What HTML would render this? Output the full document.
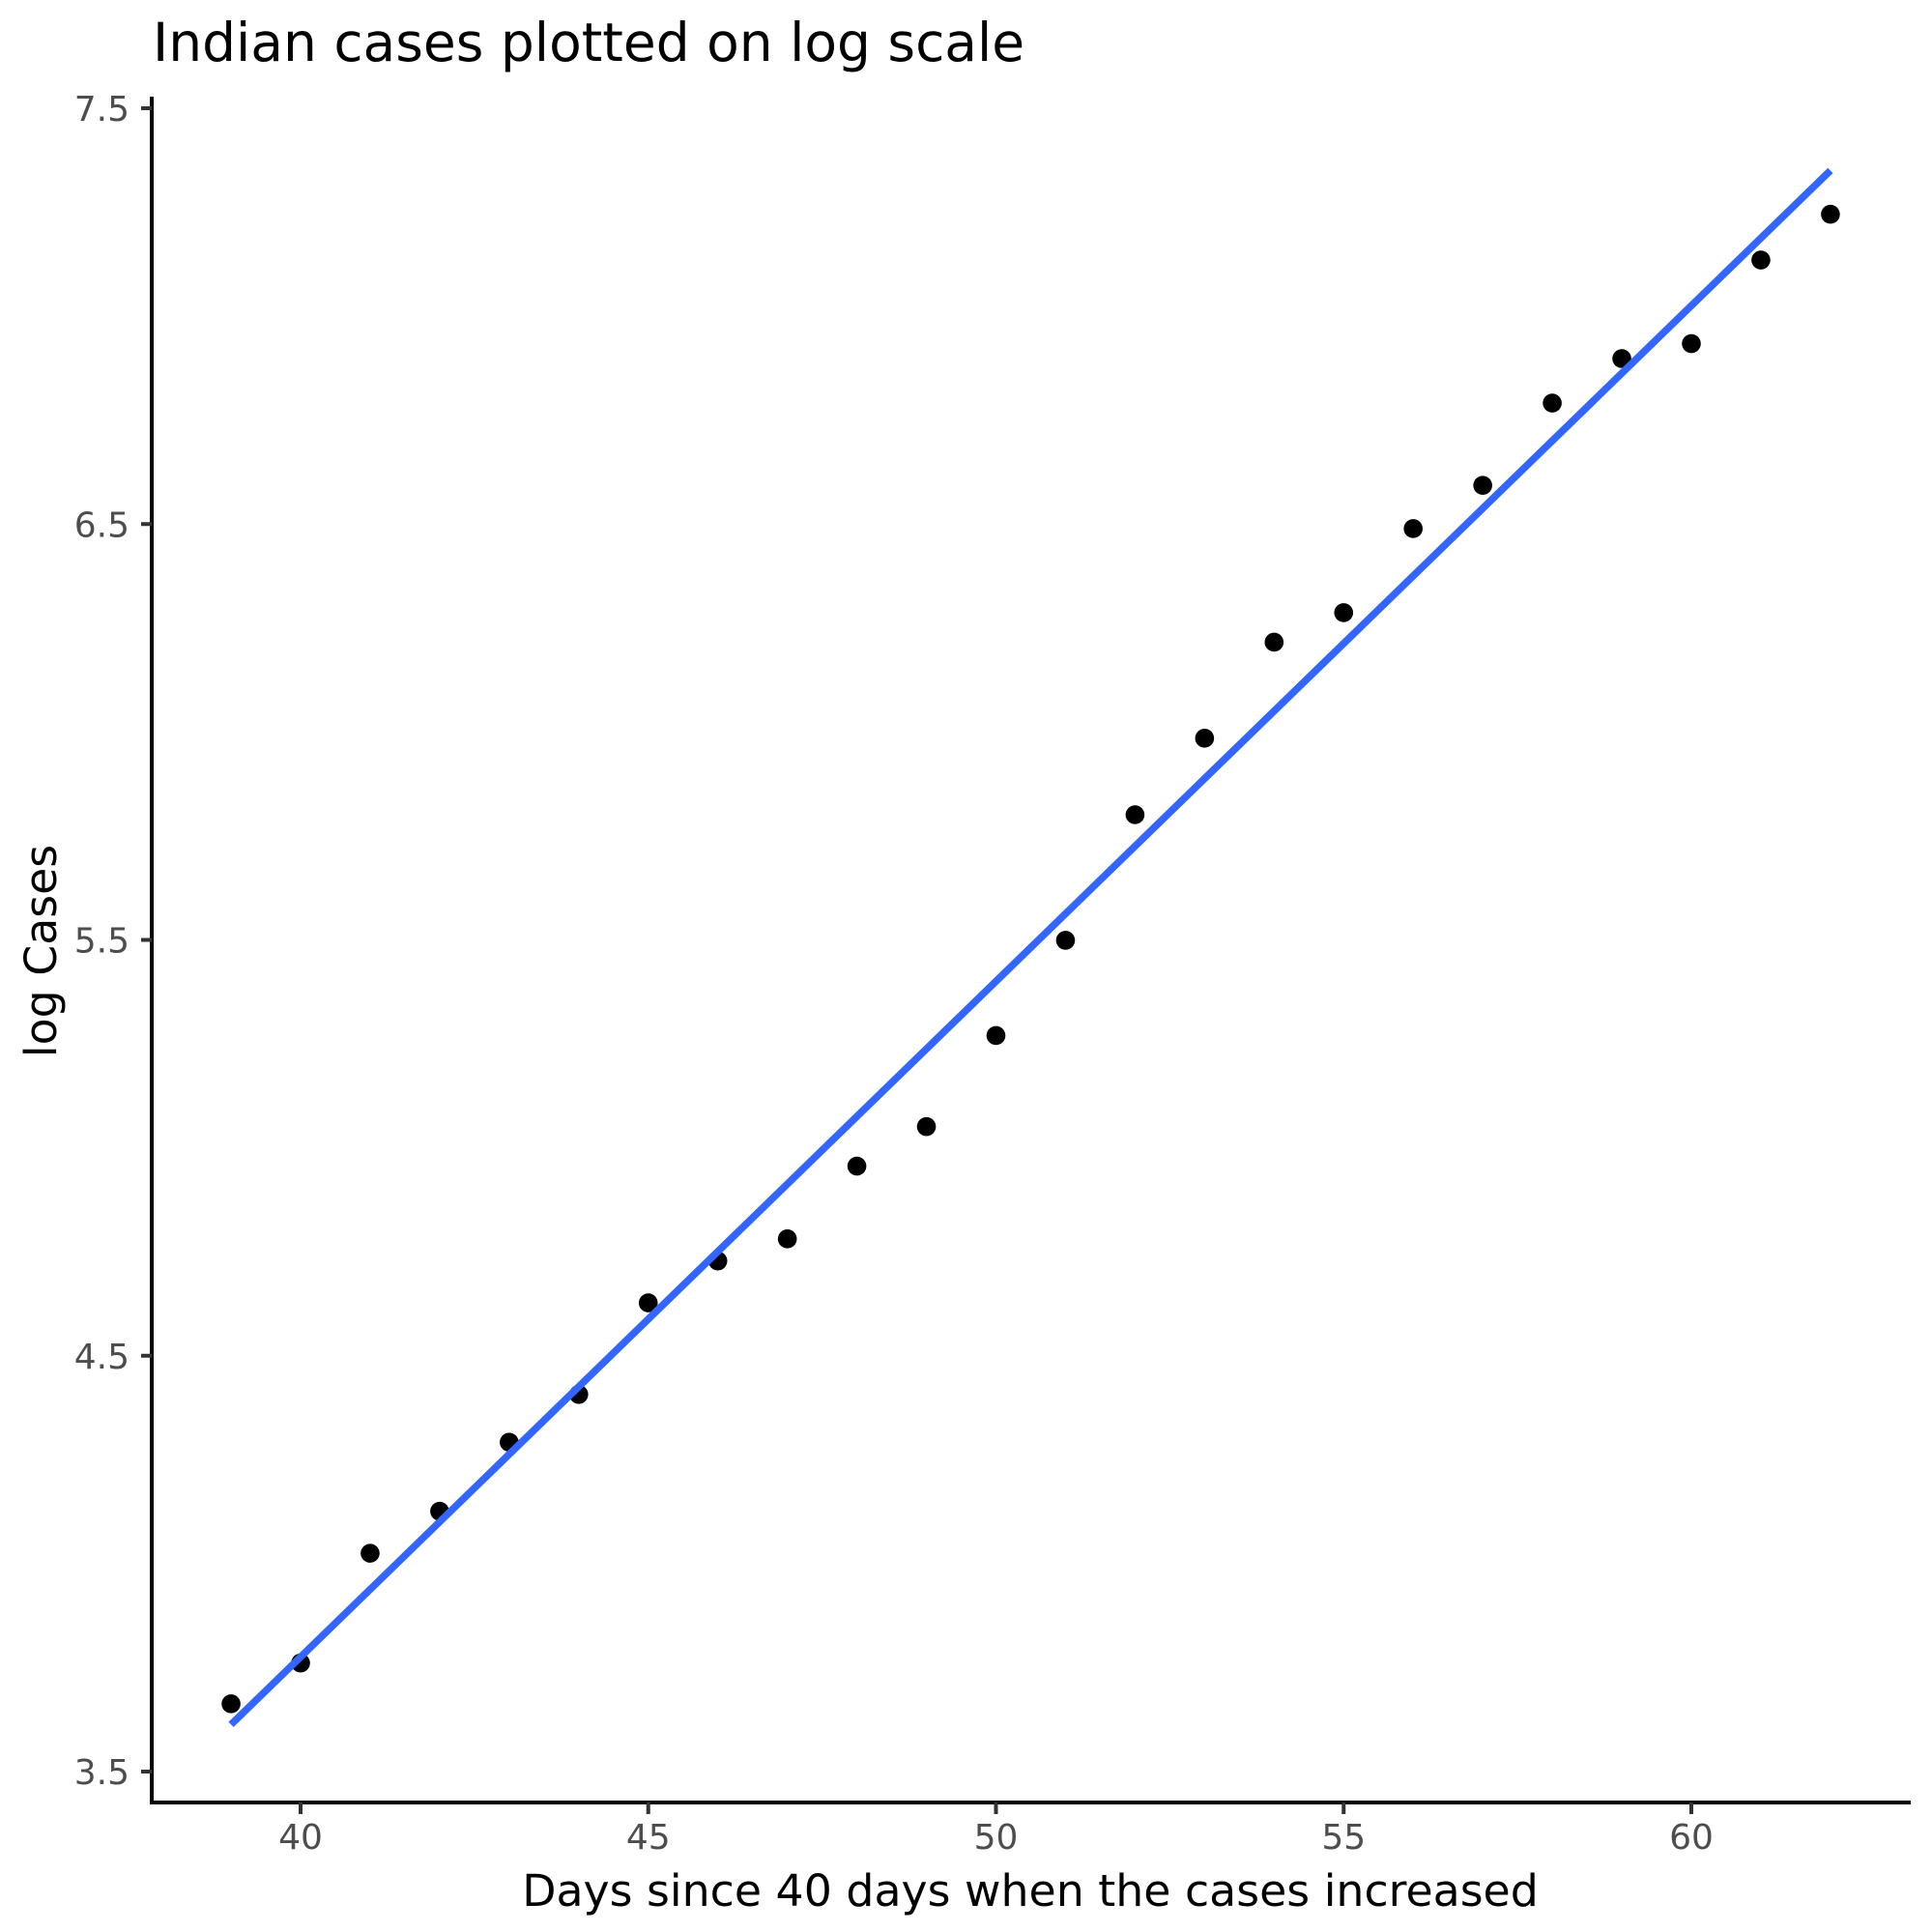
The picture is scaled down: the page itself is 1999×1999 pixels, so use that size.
<!DOCTYPE html>
<html><head><meta charset="utf-8">
<style>
html,body{margin:0;padding:0;background:#fff;}
svg{display:block;font-family:"DejaVu Sans","Liberation Sans",sans-serif;}
</style></head>
<body>
<svg id="chart" width="1999" height="1999" viewBox="0 0 1999 1999" xmlns="http://www.w3.org/2000/svg">
<text x="158" y="63" font-size="55" fill="#000">Indian cases plotted on log scale</text>
<g id="plot"></g>
<text x="1066" y="1972" font-size="45.8" text-anchor="middle" fill="#000">Days since 40 days when the cases increased</text>
<text transform="translate(58,984) rotate(-90)" font-size="45.8" text-anchor="middle" fill="#000">log Cases</text>
</svg>
<script>
const days = [39,40,41,42,43,44,45,46,47,48,49,50,51,52,53,54,55,56,57,58,59,60,61,62];
const logCases = [3.663,3.761,4.025,4.126,4.292,4.407,4.627,4.728,4.781,4.956,5.051,5.270,5.499,5.801,5.985,6.216,6.287,6.489,6.593,6.791,6.898,6.934,7.135,7.245];
const xTicks = [40,45,50,55,60];
const yTicks = [3.5,4.5,5.5,6.5,7.5];
const yTickLabels = ["3.5","4.5","5.5","6.5","7.5"];

const NS = "http://www.w3.org/2000/svg";
const g = document.getElementById('plot');
function xs(v){ return 311 + (v-40)*(1750-311)/20; }
function ys(v){ return 112 + (7.5-v)*(1833-112)/4; }
function mk(tag, attrs){ const e=document.createElementNS(NS,tag); for(const k in attrs) e.setAttribute(k,attrs[k]); g.appendChild(e); return e; }

let ax = mk('line',{x1:157,y1:100,x2:157,y2:1867,stroke:'#000','stroke-width':4});


ax = mk('line',{x1:155,y1:1865,x2:1977,y2:1865,stroke:'#000','stroke-width':4});



yTicks.forEach((t,i)=>{
  const y=ys(t);
  const tk=mk('line',{x1:146,y1:y,x2:157,y2:y,stroke:'#333','stroke-width':4});
  
  
  const lb=mk('text',{x:134,y:y+13,'font-size':36,'text-anchor':'end',fill:'#4d4d4d'});
  lb.textContent=yTickLabels[i];
  
  
});
xTicks.forEach(t=>{
  const x=xs(t);
  const tk=mk('line',{x1:x,y1:1865,x2:x,y2:1877,stroke:'#333','stroke-width':4});
  
  
  const lb=mk('text',{x:x,y:1913,'font-size':36,'text-anchor':'middle',fill:'#4d4d4d'});
  lb.textContent=String(t);
  
  
});

days.forEach((d,i)=>{
  const c=mk('circle',{cx:xs(d),cy:ys(logCases[i]),r:9.8,fill:'#000'});
  
  
});

const n=days.length;
const mx=days.reduce((a,b)=>a+b,0)/n, my=logCases.reduce((a,b)=>a+b,0)/n;
let sxy=0,sxx=0;
for(let i=0;i<n;i++){ sxy+=(days[i]-mx)*(logCases[i]-my); sxx+=(days[i]-mx)**2; }
const slope=sxy/sxx, icpt=my-slope*mx;
const x0=days[0], x1=days[n-1];
const fit=mk('line',{x1:xs(x0),y1:ys(icpt+slope*x0),x2:xs(x1),y2:ys(icpt+slope*x1),stroke:'#3366FF','stroke-width':7.5});


</script>
</body></html>
